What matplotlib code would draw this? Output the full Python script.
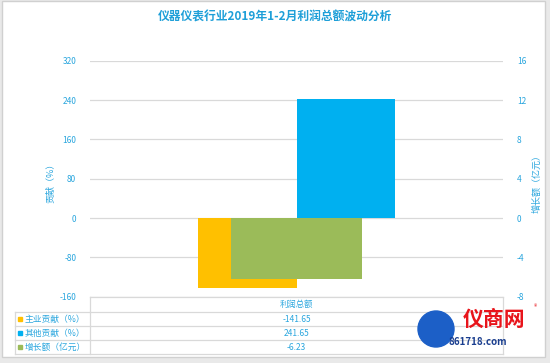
import matplotlib.pyplot as plt
from matplotlib.patches import Rectangle, Ellipse

plt.rcParams["font.family"] = ["Noto Sans CJK SC", "DejaVu Sans"]
plt.rcParams["axes.unicode_minus"] = False

# データ
category = ["利润总额"]
series_names = ["主业贡献（%）", "其他贡献（%）", "增长额（亿元）"]
main_contrib = [-141.65]
other_contrib = [241.65]
growth = [-6.23]
left_ticks = [-160, -80, 0, 80, 160, 240, 320]
right_ticks = [-8, -4, 0, 4, 8, 12, 16]

colors = ["#FFC000", "#00B0F0", "#9BBB59"]
text_blue = "#2aa6de"
grid_grey = "#d9d9d9"

W, H = 550, 363


def fx(x):
    return x / W


def fy(y):
    return 1 - y / H


fig = plt.figure(figsize=(W / 100, H / 100), dpi=100)
fig.patch.set_facecolor("#e9e9e9")
fig.patches.append(Rectangle((fx(2), fy(357)), fx(545) - fx(2), fy(1) - fy(357),
                             transform=fig.transFigure, facecolor="white",
                             edgecolor="#d0d0d0", linewidth=1, zorder=-5))

# 軸
ax = fig.add_axes([fx(90), fy(296.7), fx(503) - fx(90), fy(60.7) - fy(296.7)])
ax.set_facecolor("none")
ax.set_xlim(-0.5, 0.5)
ax.set_ylim(left_ticks[0], left_ticks[-1])
ax.set_yticks(left_ticks)
ax.set_xticks([])
ax.yaxis.grid(True, color=grid_grey, linewidth=0.9)
ax.set_axisbelow(True)
for s in ax.spines.values():
    s.set_visible(False)
ax.tick_params(axis="y", length=0, pad=10, labelsize=6, labelcolor=text_blue)
ax.set_ylabel("贡献（%）", color=text_blue, fontsize=6.5)
ax.yaxis.set_label_coords(-0.085, 0.49)

bw = 0.238
ax.bar([-bw / 2], main_contrib, width=bw, color=colors[0], zorder=2)
ax.bar([bw / 2], other_contrib, width=bw, color=colors[1], zorder=2)

ax2 = ax.twinx()
ax2.set_ylim(right_ticks[0], right_ticks[-1])
ax2.set_yticks(right_ticks)
for s in ax2.spines.values():
    s.set_visible(False)
ax2.tick_params(axis="y", length=0, pad=10, labelsize=6, labelcolor=text_blue)
ax2.set_ylabel("增长额（亿元）", color=text_blue, fontsize=6.5, rotation=90)
ax2.yaxis.set_label_coords(1.07, 0.49)
ax2.bar([0], growth, width=0.315, color=colors[2], zorder=3)

# タイトル
fig.text(0.5, fy(17), "仪器仪表行业2019年1-2月利润总额波动分析", ha="center", va="center",
         fontsize=8.5, fontweight="bold", color="#1e9fd8")

# データテーブル
x0, x1, x2 = 15, 90, 503
rows_y = [297, 312, 326, 340, 354]
line_kw = dict(transform=fig.transFigure, color=grid_grey, linewidth=0.9)
fig.add_artist(plt.Line2D([fx(x1), fx(x2)], [fy(rows_y[0])] * 2, **line_kw))
for y in rows_y[1:]:
    fig.add_artist(plt.Line2D([fx(x0), fx(x2)], [fy(y)] * 2, **line_kw))
fig.add_artist(plt.Line2D([fx(x1)] * 2, [fy(rows_y[0]), fy(rows_y[-1])], **line_kw))
fig.add_artist(plt.Line2D([fx(x2)] * 2, [fy(rows_y[0]), fy(rows_y[-1])], **line_kw))
fig.add_artist(plt.Line2D([fx(x0)] * 2, [fy(rows_y[1]), fy(rows_y[-1])], **line_kw))

cx = (x1 + x2) / 2
fig.text(fx(cx), fy((rows_y[0] + rows_y[1]) / 2), category[0], ha="center", va="center",
         fontsize=6, color=text_blue)
values = [main_contrib[0], other_contrib[0], growth[0]]
for i, (name, val, c) in enumerate(zip(series_names, values, colors)):
    yc = (rows_y[i + 1] + rows_y[i + 2]) / 2
    fig.patches.append(Rectangle((fx(18), fy(yc + 2)), fx(4), fy(0) - fy(4),
                                 transform=fig.transFigure, color=c))
    fig.text(fx(25), fy(yc), name, ha="left", va="center", fontsize=6.3, color=text_blue)
    fig.text(fx(cx), fy(yc), f"{val:g}", ha="center", va="center", fontsize=6,
             color=text_blue)

# 透かし
fig.patches.append(Ellipse((fx(436), fy(329)), fx(36), fy(0) - fy(36),
                           transform=fig.transFigure, color="#1c5fc7", zorder=5))
fig.text(fx(494), fy(319), "仪商网", ha="center", va="center", fontsize=15,
         fontweight="bold", color="#e8141b", zorder=6)
fig.text(fx(535), fy(307), "®", ha="center", va="center", fontsize=5,
         color="#e8141b", zorder=6)
fig.text(fx(478), fy(342), "861718.com", ha="center", va="center", fontsize=7,
         fontweight="bold", style="italic", color="#1a3e8f", zorder=6)

fig.savefig("out.png", dpi=100, facecolor=fig.get_facecolor())
